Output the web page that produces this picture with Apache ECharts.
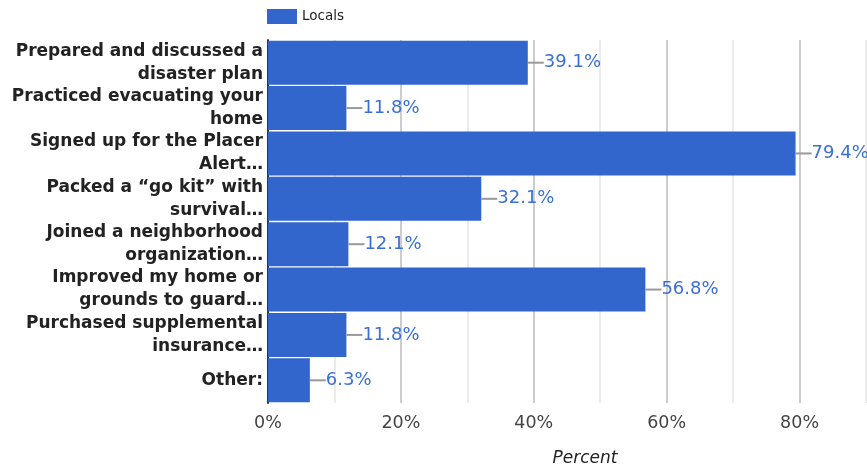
<!DOCTYPE html>
<html><head><meta charset="utf-8">
<script src="https://cdn.jsdelivr.net/npm/echarts@6/dist/echarts.min.js"></script>
<style>html,body{margin:0;padding:0;background:#fff}#c{width:867px;height:468px}</style>
</head><body><div id="c"></div>
<script>
const categories = [
  "Prepared and discussed a\ndisaster plan",
  "Practiced evacuating your\nhome",
  "Signed up for the Placer\nAlert…",
  "Packed a “go kit” with\nsurvival…",
  "Joined a neighborhood\norganization…",
  "Improved my home or\ngrounds to guard…",
  "Purchased supplemental\ninsurance…",
  "Other:"
];
const seriesName = "Locals";
const values = [39.1, 11.8, 79.4, 32.1, 12.1, 56.8, 11.8, 6.3];
const xTicks = [0, 20, 40, 60, 80];

const FF = '"DejaVu Sans", sans-serif';
const chart = echarts.init(document.getElementById('c'), null, {renderer: 'canvas'});
chart.setOption({
  animation: false,
  textStyle: {fontFamily: FF},
  legend: {
    left: 267, top: 9, padding: 0, itemWidth: 30, itemHeight: 15, itemGap: 5,
    icon: 'rect',
    textStyle: {color: '#222', fontSize: 13.5, fontFamily: FF},
    data: [seriesName]
  },
  grid: {left: 268, right: 1, top: 40, bottom: 65, containLabel: false, outerBoundsMode: 'none'},
  xAxis: {
    type: 'value', min: 0, max: 90, interval: 10,
    name: 'Percent', nameLocation: 'middle', nameGap: 47,
    nameTextStyle: {fontStyle: 'italic', color: '#222', fontSize: 17, fontFamily: FF, padding: [0, 0, 0, 36]},
    axisLine: {show: false}, axisTick: {show: false},
    axisLabel: {
      color: '#444', fontSize: 17.5, margin: 11, fontFamily: FF,
      formatter: v => xTicks.indexOf(v) >= 0 ? v + '%' : ''
    },
    splitLine: {show: true, lineStyle: {color: ['#cccccc', '#ebebeb'], width: 2}}
  },
  yAxis: {
    type: 'category', inverse: true, data: categories,
    axisLine: {show: true, lineStyle: {color: '#333', width: 2}},
    axisTick: {show: false},
    axisLabel: {
      color: '#222', fontSize: 17, fontWeight: 'bold', lineHeight: 23, margin: 5,
      align: 'right', fontFamily: FF, interval: 0, showMinLabel: true, showMaxLabel: true,
      hideOverlap: false
    }
  },
  series: [{
    name: seriesName, type: 'bar', data: values,
    barCategoryGap: '3%',
    itemStyle: {color: '#3366cc'},
    label: {
      show: true, position: 'right', distance: 0,
      formatter: p => '{l|}{v|' + p.value.toFixed(1) + '%}',
      rich: {
        l: {width: 16, height: 2, backgroundColor: '#999999'},
        v: {color: '#3a6fd6', fontSize: 18, fontFamily: FF}
      }
    }
  }]
});
</script></body></html>
